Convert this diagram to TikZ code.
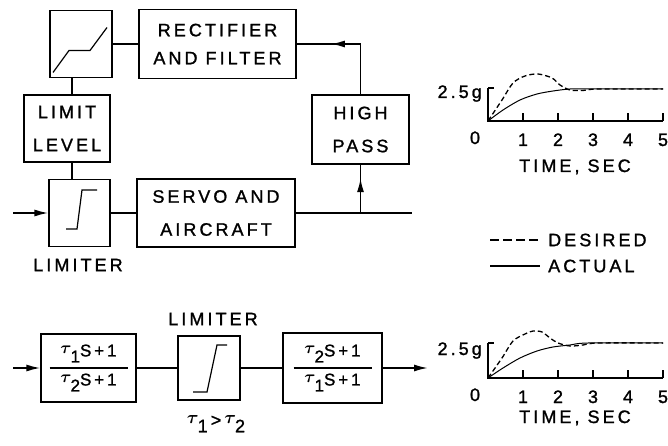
\RequirePackage{fix-cm}
\documentclass[tikz,border=0pt]{standalone}
\usepackage{amsmath}
\usepackage{fontspec}
\setmainfont{Liberation Sans}
\newfontfamily\lettering[LetterSpace=17, FakeBold=1.3]{Liberation Sans}
\usetikzlibrary{arrows.meta,positioning,decorations.markings}
\newcommand{\tauidx}[1]{\raisebox{2.5pt}{$\boldsymbol{\tau}$}\kern-1pt\raisebox{-6pt}{#1}}
\newcommand{\leadlag}[2]{$\genfrac{}{}{1.6pt}{0}{\hbox to 78pt{\hfil\tauidx{#1}S+1\hfil}}{\hbox{\tauidx{#2}S+1}}$}
\tikzset{
  block/.style={draw, line width=1.2pt, inner sep=0pt, align=center,
    font=\lettering\fontsize{18}{33}\selectfont},
  txt/.style={inner sep=0pt, font=\lettering\fontsize{18}{22}\selectfont},
  wire/.style={line width=1.7pt},
  feed/.style={wire, -{Latex[length=14pt,width=7pt]}},
  midarrow/.style={wire, postaction={decorate}, decoration={markings,
    mark=at position #1 with {\arrow{Latex[length=14pt,width=7pt]}}}},
  icon/.style={line width=1.2pt},
  axis/.style={line width=1.5pt},
  actualline/.style={line width=1pt},
  desiredline/.style={line width=1.3pt, dash pattern=on 5pt off 3pt},
}
\begin{document}
\begin{tikzpicture}[x=1pt, y=-1pt]
  \useasboundingbox (0,0) rectangle (668,446);

  % adaptive limiter loop
  \node[block, minimum width=62pt, minimum height=67pt] (dz) at (81,44) {};
  \node[block, minimum width=157pt, minimum height=69pt,
    font=\lettering\fontsize{18}{28}\selectfont] (rect) at (217.5,44) {RECTIFIER\\AND FILTER};
  \node[block, minimum width=86pt, minimum height=67pt] (level) at (67,128.5) {LIMIT\\LEVEL};
  \node[block, minimum width=61pt, minimum height=67pt] (lim) at (79.5,213) {};
  \node[block, minimum width=158pt, minimum height=68pt] (servo) at (216,213) {SERVO AND\\AIRCRAFT};
  \node[block, minimum width=97pt, minimum height=69pt] (hp) at (360.5,129.5) {HIGH\\PASS};
  \node[txt] (limname) at (78,265) {LIMITER};
  \coordinate (in) at (13,213);
  \coordinate (tap) at (hp.south |- servo.east);
  \coordinate (out) at (412,213);

  \begin{scope}[shift={(dz.center)}]
    \draw[icon] (-28,28.5) -- (-12,6.5) -- (9,6.5) -- (26,-16.5);
  \end{scope}
  \begin{scope}[shift={(lim.center)}]
    \draw[icon] (-13.5,16) -- (-2.5,16) -- (2.5,-23) -- (17.5,-23);
  \end{scope}

  \draw[feed] (in) -- (lim);
  \draw[wire] (lim) -- (servo);
  \draw[wire] (servo) -- (out);
  \draw[midarrow=0.72] (tap) -- (hp);
  \draw[midarrow=0.7] (hp) |- (rect);
  \draw[wire] (dz) -- (rect);
  \draw[wire] ([xshift=-9pt]dz.south) -- ([xshift=-9pt]dz.south |- level.north);
  \draw[wire] ([xshift=-7.5pt]lim.north) -- ([xshift=-7.5pt]lim.north |- level.south);

  % compensated limiter
  \node[block, minimum width=95pt, minimum height=68pt,
    font=\lettering\fontsize{17}{18}\selectfont] (lead) at (88.5,368) {\leadlag{1}{2}};
  \node[block, minimum width=62pt, minimum height=64pt] (blim) at (209,368) {};
  \node[block, minimum width=99pt, minimum height=70pt,
    font=\lettering\fontsize{17}{18}\selectfont] (lag) at (332.5,368) {\leadlag{2}{1}};
  \node[txt] (blimname) at (213,319) {LIMITER};
  \node[txt] (cond) at (216,424) {\tauidx{1}\,>\,\tauidx{2}};
  \coordinate (bin) at (13,368);
  \coordinate (bout) at (428,368);

  \begin{scope}[shift={(blim.center)}]
    \draw[icon] (-16,24) -- (-2,24) -- (8,-23) -- (18,-23);
  \end{scope}

  \draw[feed] (bin) -- (lead);
  \draw[wire] (lead) -- (blim);
  \draw[wire] (blim) -- (lag);
  \draw[feed] (lag) -- (bout);

  % response, top
  \begin{scope}[shift={(488,121)}]
    \draw[axis] (0,-33) -- (6,-33) (0,-33) -- (0,0) -- (175,0);
    \foreach \t in {1,...,5} {
      \draw[axis] (35*\t,0) -- (35*\t,-8);
      \node[txt, anchor=base] (ta\t) at (35*\t,25) {\t};
    }
    \node[txt, anchor=base east] (tg) at (-6,-23) {2.5g};
    \node[txt, anchor=base] (tz) at (-13,23) {0};
    \node[txt, anchor=base] (ttime) at (87,51) {TIME, SEC};
    \draw[desiredline] plot[smooth] coordinates {(0,0) (14,-21) (25,-38) (37,-45) (50,-47) (64,-43) (72,-36) (82,-31) (95,-30.5) (110,-32) (175,-32)};
    \draw[actualline] plot[smooth] coordinates {(0,0) (15,-11) (32,-21) (49,-27) (65,-30) (82,-32) (100,-32) (175,-32)};
  \end{scope}

  % response, bottom
  \begin{scope}[shift={(488,378)}]
    \draw[axis] (0,-35) -- (6,-35) (0,-35) -- (0,0) -- (175,0);
    \foreach \t in {1,...,5} {
      \draw[axis] (35*\t,0) -- (35*\t,-8);
      \node[txt, anchor=base] (tb\t) at (35*\t,25) {\t};
    }
    \node[txt, anchor=base east] (bg) at (-6,-23) {2.5g};
    \node[txt, anchor=base] (bz) at (-13,23) {0};
    \node[txt, anchor=base] (btime) at (87,45) {TIME, SEC};
    \draw[desiredline] plot[smooth] coordinates {(0,0) (14,-20) (25,-37) (37,-44) (45,-47) (54,-46) (62,-40) (70,-35) (82,-32) (95,-33) (110,-35) (175,-35)};
    \draw[actualline] plot[smooth] coordinates {(0,0) (15,-10) (32,-20) (49,-27) (65,-31) (82,-33) (100,-35) (175,-35)};
  \end{scope}

  % legend
  \node[txt, anchor=west] (desired) at (548,240) {DESIRED};
  \node[txt, anchor=west] (actual) at (548,266) {ACTUAL};
  \coordinate (dstart) at (490,240);
  \coordinate (astart) at (490,266);
  \draw[desiredline, dash pattern=on 9pt off 4pt, shorten >=10pt] (dstart) -- (desired.west);
  \draw[actualline, line width=1.3pt, shorten >=8pt] (astart) -- (actual.west);
\end{tikzpicture}
\end{document}
